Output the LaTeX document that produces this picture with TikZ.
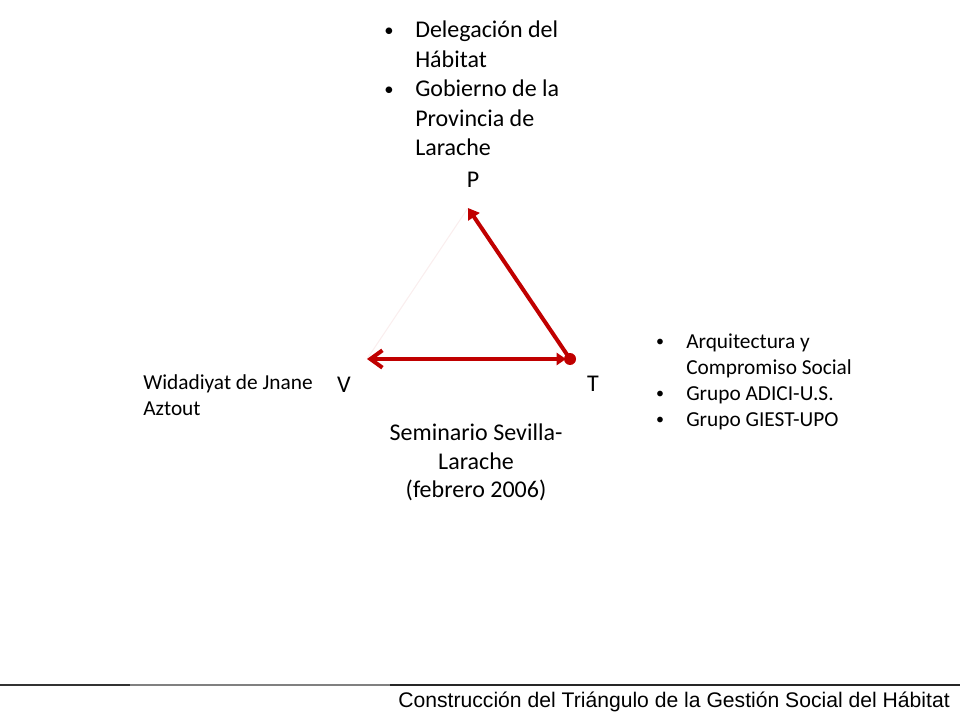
\documentclass[tikz,border=0pt]{standalone}
\usepackage{fontspec}
\setmainfont{Carlito}
\newfontfamily\arialf{Liberation Sans}
\usetikzlibrary{arrows.meta}
\definecolor{dred}{RGB}{192,0,0}
\definecolor{faint}{RGB}{250,238,238}
\begin{document}
\begin{tikzpicture}[x=0.75pt,y=-0.75pt,
  lbl/.style={inner sep=0pt, anchor=base west},
  ctr/.style={inner sep=0pt, anchor=base},
  big/.style={font=\fontsize{18}{22}\selectfont},
  small/.style={font=\fontsize{16}{19.5}\selectfont},
  bigbul/.style={inner sep=0pt, anchor=center, font=\fontsize{14}{16}\selectfont},
  smallbul/.style={inner sep=0pt, anchor=center, font=\fontsize{12}{14}\selectfont},
  redarrow/.style={draw=dred, line width=3pt, {Straight Barb[length=9pt,width=13pt]}-{Triangle[length=7pt,width=9pt]}},
  redone/.style={draw=dred, line width=3pt, -{Triangle[length=8pt,width=10pt]}}
]
\useasboundingbox (0,0) rectangle (960,720);
% vertices
\coordinate (vP) at (468,208);
\coordinate (vT) at (570,359);
\coordinate (vV) at (367,359);
% faint side
\draw[faint, line width=0.8pt] (vV) -- (vP);
% red connectors
\draw[redone, shorten <=2pt] (vT) -- (vP);
\draw[redarrow, shorten >=3pt] (vV) -- (vT);
\fill[dred] (vT) circle (6);
% vertex labels
\node[ctr,big] (lP) at (473,188) {P};
\node[ctr,big] (lV) at (344,392) {V};
\node[ctr,big] (lT) at (593,391) {T};
% top bullets
\node[bigbul] (tb1) at (389,32) {•};
\node[lbl,big] (t1) at (415,38) {Delegación del};
\node[lbl,big] (t2) at (415,67.5) {Hábitat};
\node[bigbul] (tb2) at (389,91) {•};
\node[lbl,big] (t3) at (415,97) {Gobierno de la};
\node[lbl,big] (t4) at (415,126.5) {Provincia de};
\node[lbl,big] (t5) at (415,156) {Larache};
% right bullets
\node[smallbul] (rb1) at (660,343) {•};
\node[lbl,small] (r1) at (686,348) {Arquitectura y};
\node[lbl,small] (r2) at (686,374) {Compromiso Social};
\node[smallbul] (rb2) at (660,395) {•};
\node[lbl,small] (r3) at (686,400) {Grupo ADICI-U.S.};
\node[smallbul] (rb3) at (660,421) {•};
\node[lbl,small] (r4) at (686,426) {Grupo GIEST-UPO};
% left text
\node[lbl,small] (w1) at (143,389) {Widadiyat de Jnane};
\node[lbl,small] (w2) at (143,415) {Aztout};
% bottom center
\node[ctr,big] (s1) at (476,440) {Seminario Sevilla-};
\node[ctr,big] (s2) at (476,469) {Larache};
\node[ctr,big] (s3) at (476,497) {(febrero 2006)};
% footer
\coordinate (f0) at (0,685);
\coordinate (f1) at (130,685);
\coordinate (f2) at (390,685);
\coordinate (f3) at (960,685);
\draw[black!80, line width=0.8pt] (f0) -- (f1);
\draw[black!50, line width=0.8pt] (f1) -- (f2);
\draw[black!85, line width=0.8pt] (f2) -- (f3);
\node[inner sep=0pt, anchor=base east, font=\arialf\fontsize{15.85}{19}\selectfont] (foot) at (950,707) {Construcción del Triángulo de la Gestión Social del Hábitat};
\end{tikzpicture}
\end{document}
